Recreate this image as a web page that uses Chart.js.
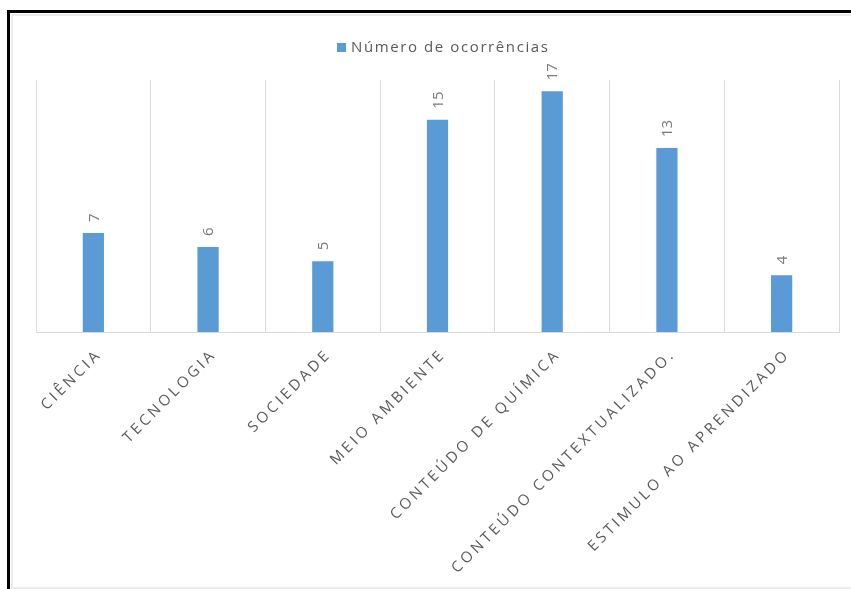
<!DOCTYPE html>
<html>
<head>
<meta charset="utf-8">
<script src="https://cdn.jsdelivr.net/npm/chart.js@4"></script>
<style>
body{margin:0;background:#fff;}
#wrap{position:relative;width:851px;height:589px;overflow:hidden;}
#chart{position:absolute;left:0;top:0;}
.frameL{position:absolute;left:7px;top:10px;width:3px;height:579px;background:#000;}
.frameT{position:absolute;left:7px;top:10px;width:844px;height:3px;background:#000;}
.innerL{position:absolute;left:11px;top:14px;width:2px;height:574px;background:#ececec;}
.innerT{position:absolute;left:11px;top:14px;width:840px;height:2px;background:#ececec;}
.innerB{position:absolute;left:11px;top:587px;width:840px;height:2px;background:#ececec;}
</style>
</head>
<body>
<div id="wrap">
<canvas id="chart" width="851" height="589"></canvas>
<div class="frameL"></div><div class="frameT"></div>
<div class="innerL"></div><div class="innerT"></div><div class="innerB"></div>
</div>
<script>
// dados do gráfico
var categorias = ['CIÊNCIA','TECNOLOGIA','SOCIEDADE','MEIO AMBIENTE','CONTEÚDO DE QUÍMICA','CONTEÚDO CONTEXTUALIZADO.','ESTIMULO AO APRENDIZADO'];
var ocorrencias = [7, 6, 5, 15, 17, 13, 4];
var serieNome = 'Número de ocorrências';

var azul = '#5b9bd5';
var cinza = '#595959';

// legenda desenhada a mão (com espaçamento entre letras)
var legendaPlugin = {
	id:'legenda',
	afterDraw:function(chart){
		var ctx = chart.ctx;
		ctx.save();
		ctx.fillStyle = azul;
		ctx.fillRect(337, 43, 9, 9);
		ctx.font = '15px "Open Sans"';
		ctx.letterSpacing = '1.6px';
		ctx.fillStyle = cinza;
		ctx.textAlign = 'left';
		ctx.textBaseline = 'middle';
		ctx.fillText(serieNome, 351, 48);
		ctx.restore();
	}
};

// rótulos de valor (verticais) e rótulos das categorias (45 graus)
var rotulosPlugin = {
	id:'rotulos',
	afterDatasetsDraw:function(chart){
		var ctx = chart.ctx;
		var meta = chart.getDatasetMeta(0);
		var xs = chart.scales.x;
		ctx.save();
		ctx.fillStyle = '#7a7a7a';
		ctx.font = '15px "Open Sans"';
		ctx.textAlign = 'left';
		ctx.textBaseline = 'middle';
		meta.data.forEach(function(bar, i){
			ctx.save();
			ctx.translate(bar.x + 1, bar.y - 11);
			ctx.rotate(-Math.PI/2);
			ctx.fillText(String(ocorrencias[i]), 0, 0);
			ctx.restore();
		});
		ctx.fillStyle = cinza;
		ctx.font = '15px "Open Sans"';
		ctx.letterSpacing = '3.2px';
		ctx.textAlign = 'right';
		ctx.textBaseline = 'middle';
		categorias.forEach(function(c, i){
			var x = xs.getPixelForValue(i);
			ctx.save();
			ctx.translate(x + 6, chart.chartArea.bottom + 20);
			ctx.rotate(-Math.PI/4);
			ctx.fillText(c, 0, 0);
			ctx.restore();
		});
		ctx.restore();
	}
};

var ctx = document.getElementById('chart').getContext('2d');
var grafico = new Chart(ctx, {
	type:'bar',
	data:{
		labels:categorias,
		datasets:[{
			label:serieNome,
			data:ocorrencias,
			backgroundColor:azul,
			categoryPercentage:1,
			barPercentage:0.185
		}]
	},
	options:{
		responsive:false,
		animation:false,
		layout:{padding:{left:36, right:12, top:80, bottom:257}},
		plugins:{legend:{display:false}, tooltip:{enabled:false}},
		scales:{
			x:{
				offset:true,
				grid:{display:true, color:'#d9d9d9', drawTicks:false, offset:true},
				border:{display:true, color:'#d9d9d9'},
				ticks:{display:false}
			},
			y:{
				display:false,
				min:0,
				max:17.8
			}
		}
	},
	plugins:[legendaPlugin, rotulosPlugin]
});
</script>
</body>
</html>
